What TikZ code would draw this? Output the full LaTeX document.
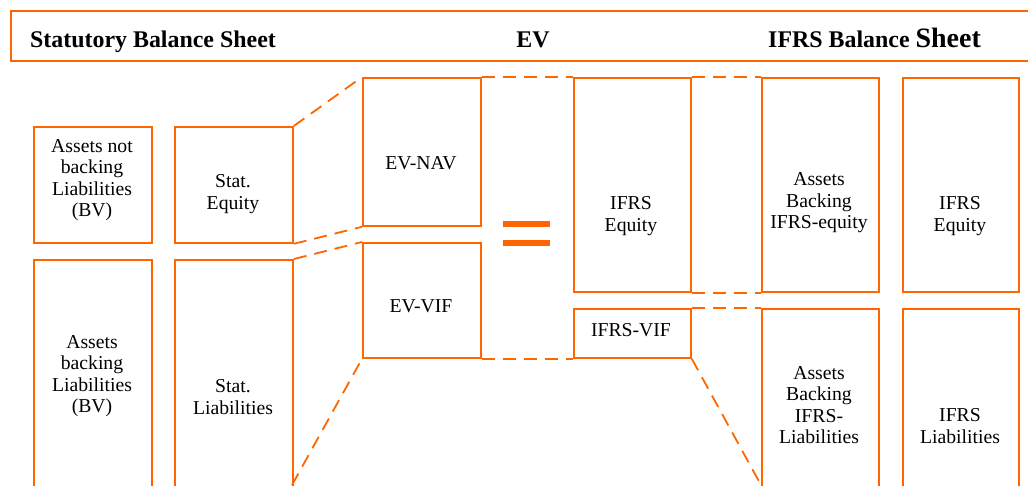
\documentclass[tikz,border=0pt]{standalone}
\usepackage{fontspec}
\setmainfont{Liberation Serif}
\definecolor{org}{RGB}{255,102,0}
\begin{document}
\begin{tikzpicture}[x=1pt,y=-1pt,
  box/.style={draw=org, line width=1.8pt, inner sep=0pt, anchor=north west},
  lbl/.style={align=center, font=\fontsize{19.7}{21.6}\selectfont, inner sep=0pt},
  dsh/.style={draw=org, line width=1.8pt, dash pattern=on 13pt off 8pt},
  hd/.style={font=\fontsize{23.9}{26}\selectfont\bfseries, inner sep=0pt, anchor=base west}]
\useasboundingbox (0,0) rectangle (1028,485);
\clip (0,0) rectangle (1028,485);
% header
\node[draw=org, line width=2.4pt, anchor=north west, minimum width=1040pt, minimum height=50pt, inner sep=0pt] (hdr) at (10,10) {};
\node[hd] (h1) at (30,47) {Statutory Balance Sheet};
\node[hd, anchor=base] (h2) at (533,47) {EV};
\node[hd] (h3) at (768,47) {IFRS Balance {\fontsize{28}{30}\selectfont Sheet}};
% statutory
\node[box, minimum width=118pt, minimum height=116pt] (a1) at (33,126) {};
\node[box, minimum width=118pt, minimum height=260pt] (a2) at (33,259) {};
\node[box, minimum width=118pt, minimum height=116pt] (s1) at (174,126) {};
\node[box, minimum width=118pt, minimum height=260pt] (s2) at (174,259) {};
% EV
\node[box, minimum width=118pt, minimum height=148pt] (nav) at (362,77) {};
\node[box, minimum width=118pt, minimum height=115pt] (vif) at (362,242) {};
% IFRS
\node[box, minimum width=117pt, minimum height=214pt] (ie) at (573,77) {};
\node[box, minimum width=117pt, minimum height=49pt] (iv) at (573,308) {};
\node[box, minimum width=117pt, minimum height=214pt] (ab1) at (761,77) {};
\node[box, minimum width=117pt, minimum height=200pt] (ab2) at (761,308) {};
\node[box, minimum width=116pt, minimum height=214pt] (ie2) at (902,77) {};
\node[box, minimum width=116pt, minimum height=200pt] (il) at (902,308) {};
% labels
\node[lbl] (a1t) at (92,180) {Assets not\\backing\\Liabilities\\(BV)};
\node[lbl] (a2t) at (92,376) {Assets\\backing\\Liabilities\\(BV)};
\node[lbl] (s1t) at (233,194) {Stat.\\Equity};
\node[lbl] (s2t) at (233,397) {Stat.\\Liabilities};
\node[lbl] (navt) at (421,163) {EV-NAV};
\node[lbl] (viftx) at (421,306) {EV-VIF};
\node[lbl] (iet) at (631,216) {IFRS\\Equity};
\node[lbl] (ivt) at (631,330) {IFRS-VIF};
\node[lbl] (ab1t) at (819,203) {Assets\\Backing\\IFRS-equity};
\node[lbl] (ab2t) at (819,405) {Assets\\Backing\\IFRS-\\Liabilities};
\node[lbl] (ie2t) at (960,216) {IFRS\\Equity};
\node[lbl] (ilt) at (960,426) {IFRS\\Liabilities};
% equals sign
\fill[org] (503,221) rectangle (550,226.5);
\fill[org] (503,240) rectangle (550,245.5);
% connectors
\coordinate (s2b) at (292,485);
\coordinate (ab2b) at (761,485);
\draw[dsh] (s1.north east) -- (nav.north west);
\draw[dsh] (s1.south east) -- (nav.south west);
\draw[dsh] (s2.north east) -- (vif.north west);
\draw[dsh] (s2b) -- (vif.south west);
\draw[dsh] (nav.north east) -- (ie.north west);
\draw[dsh] (vif.south east) -- (iv.south west);
\draw[dsh] (ie.north east) -- (ab1.north west);
\draw[dsh] (ie.south east) -- (ab1.south west);
\draw[dsh] (iv.north east) -- (ab2.north west);
\draw[dsh] (iv.south east) -- (ab2b);
\end{tikzpicture}
\end{document}
